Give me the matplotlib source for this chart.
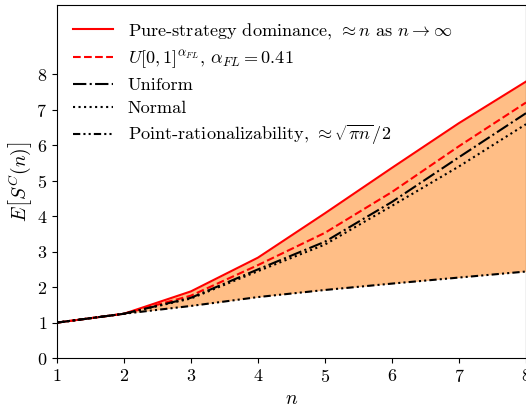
#!/usr/bin/env python3

import numpy as np
import matplotlib
matplotlib.use('Agg')
import matplotlib.pyplot as plt

matplotlib.rcParams['font.family'] = 'serif'
matplotlib.rcParams['font.serif'] = ['cmr10', 'DejaVu Serif']
matplotlib.rcParams['mathtext.fontset'] = 'cm'
matplotlib.rcParams['axes.formatter.use_mathtext'] = True

n = [1, 2, 3, 4, 5, 6, 7, 8]
pure = [1.0, 1.25, 1.88, 2.83, 4.08, 5.36, 6.62, 7.79]
fl = [1.0, 1.25, 1.76, 2.62, 3.53, 4.68, 5.97, 7.20]
uniform = [1.0, 1.25, 1.70, 2.50, 3.28, 4.40, 5.66, 6.90]
normal = [1.0, 1.25, 1.68, 2.45, 3.20, 4.29, 5.40, 6.59]
point_rat = [1.0, 1.25, 1.47, 1.72, 1.92, 2.10, 2.27, 2.44]

fig = plt.figure(figsize=(5.26, 4.07), dpi=100)
ax = fig.add_axes([0.108, 0.120, 0.892, 0.868])

ax.fill_between(n, point_rat, pure, color='C1', alpha=0.5, linewidth=0)
ax.plot(n, pure, color='red', linewidth=1.5,
        label=r'Pure-strategy dominance, $\approx n$ as $n \to \infty$')
ax.plot(n, fl, color='red', linestyle='--', linewidth=1.5,
        label=r'$U[0,1]^{\alpha_{FL}}$, $\alpha_{FL} = 0.41$')
ax.plot(n, uniform, color='black', linestyle='-.', linewidth=1.5, label='Uniform')
ax.plot(n, normal, color='black', linestyle=':', linewidth=1.5, label='Normal')
ax.plot(n, point_rat, color='black', linewidth=1.5,
        dashes=(3.5, 1.5, 1, 1.5, 1, 1.5),
        label=r'Point-rationalizability, $\approx \sqrt{\pi n}/2$')

ax.set_xlim(1, 8)
ax.set_ylim(0, 9.95)
ax.set_yticks(range(0, 9))
ax.set_xticks(n)
ax.tick_params(labelsize=13)
ax.set_xlabel(r'$n$', fontsize=14)
ax.set_ylabel(r'$E\left[S^C(n)\right]$', fontsize=14, labelpad=2)

ax.legend(loc='upper left', fontsize=13.1, frameon=False,
          labelspacing=0.38, borderaxespad=0.5, handlelength=2.2)

plt.savefig('out.png', dpi=100)
